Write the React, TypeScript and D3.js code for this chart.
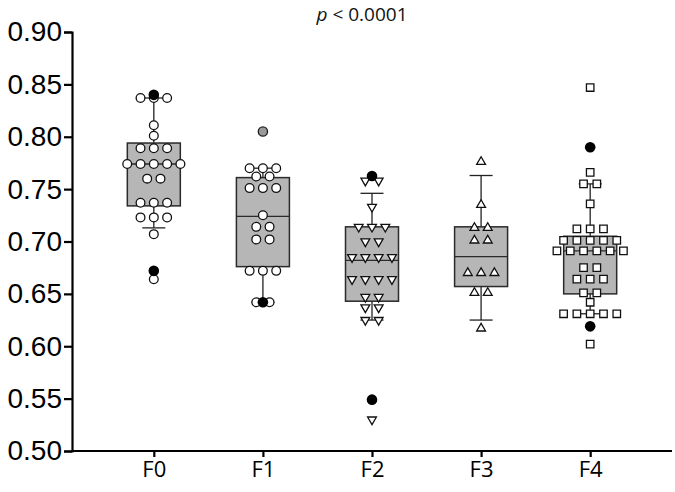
import React, { useEffect, useRef } from "react";
import * as d3 from "d3";

// groups along the x axis
const categories = ["F0", "F1", "F2", "F3", "F4"];
const markers = ["circle", "circle", "triDown", "triUp", "square"];

// box statistics per group
const q1 = [0.734, 0.676, 0.643, 0.657, 0.65];
const medians = [0.774, 0.724, 0.682, 0.6855, 0.691];
const q3 = [0.794, 0.761, 0.714, 0.714, 0.705];
const whiskerLow = [0.713, 0.642, 0.625, 0.625, 0.631];
const whiskerHigh = [0.837, 0.77, 0.746, 0.763, 0.755];

// individual observations (white markers)
const f0Values = [
  0.837, 0.837, 0.837, 0.811, 0.801, 0.789, 0.789, 0.789, 0.774, 0.774, 0.774, 0.774, 0.774,
  0.76, 0.76, 0.737, 0.737, 0.737, 0.723, 0.723, 0.723, 0.707, 0.664,
];
const f1Values = [
  0.77, 0.77, 0.77, 0.762, 0.762, 0.751, 0.751, 0.751, 0.725, 0.714, 0.714, 0.702, 0.702,
  0.672, 0.672, 0.672, 0.642, 0.642,
];
const f2Values = [
  0.758, 0.758, 0.733, 0.714, 0.714, 0.714, 0.7, 0.7, 0.685, 0.685, 0.685, 0.685, 0.664,
  0.664, 0.664, 0.664, 0.647, 0.647, 0.637, 0.637, 0.625, 0.625, 0.53,
];
const f3Values = [0.776, 0.735, 0.713, 0.713, 0.701, 0.701, 0.67, 0.67, 0.67, 0.651, 0.651, 0.617];
const f4Values = [
  0.847, 0.766, 0.755, 0.755, 0.736, 0.712, 0.712, 0.712, 0.701, 0.701, 0.701, 0.701, 0.701,
  0.691, 0.691, 0.691, 0.691, 0.691, 0.691, 0.675, 0.675, 0.664, 0.664, 0.664, 0.651, 0.651,
  0.642, 0.631, 0.631, 0.631, 0.631, 0.631, 0.602,
];
const groupValues = [f0Values, f1Values, f2Values, f3Values, f4Values];

// filled outliers
const blackPoints = [[0.84, 0.672], [0.642], [0.7625, 0.549], [], [0.79, 0.619]];
const greyPoints = [[], [0.805], [], [], []];

const yTicks = [0.5, 0.55, 0.6, 0.65, 0.7, 0.75, 0.8, 0.85, 0.9];

const App = () => {
  const svgRef = useRef<SVGSVGElement>(null);

  useEffect(() => {
    const svg = d3.select(svgRef.current);
    svg.selectAll("*").remove();

    const width = 675,
      height = 492;
    const left = 72,
      right = 672,
      top = 32,
      bottom = 451;

    const x = d3.scalePoint<string>().domain(categories).range([left, right]).padding(0.75);
    const y = d3.scaleLinear().domain([0.5, 0.9]).range([bottom, top]);
    const boxW = 53;
    const capW = 23;
    const spacing = 13.3;

    svg.attr("width", width).attr("height", height);

    // title
    const title = svg
      .append("text")
      .attr("x", 362)
      .attr("y", 21)
      .attr("text-anchor", "middle")
      .attr("font-family", "Open Sans, sans-serif")
      .attr("font-size", "19px")
      .attr("fill", "#111");
    title.append("tspan").attr("font-style", "italic").text("p");
    title.append("tspan").text(" < 0.0001");

    // y axis
    const yAxis = svg
      .append("g")
      .attr("transform", `translate(${left},0)`)
      .call(d3.axisLeft(y).tickValues(yTicks).tickFormat(d3.format(".2f")).tickSize(8).tickPadding(2));
    yAxis.select(".domain").attr("stroke", "#000").attr("stroke-width", 2.2);
    yAxis.selectAll(".tick line").attr("stroke", "#000").attr("stroke-width", 2.2);
    yAxis
      .selectAll(".tick text")
      .attr("font-family", "Liberation Sans, Arial, sans-serif")
      .attr("font-size", "28px")
      .attr("fill", "#000");

    // x axis
    const xAxis = svg
      .append("g")
      .attr("transform", `translate(0,${bottom})`)
      .call(d3.axisBottom(x).tickSize(6).tickSizeOuter(0).tickPadding(4));
    xAxis.select(".domain").attr("stroke", "#000").attr("stroke-width", 2.2).attr("d", `M${left},0H${right}`);
    xAxis.selectAll(".tick line").attr("stroke", "#000").attr("stroke-width", 2.2);
    xAxis
      .selectAll(".tick text")
      .attr("font-family", "Open Sans, sans-serif")
      .attr("font-size", "22px")
      .attr("fill", "#000");

    const plot = svg.append("g");

    categories.forEach((cat, i) => {
      const cx = x(cat) as number;
      const g = plot.append("g");

      // whiskers
      g.append("line")
        .attr("x1", cx)
        .attr("x2", cx)
        .attr("y1", y(whiskerHigh[i]))
        .attr("y2", y(q3[i]))
        .attr("stroke", "#222")
        .attr("stroke-width", 1.3);
      g.append("line")
        .attr("x1", cx)
        .attr("x2", cx)
        .attr("y1", y(q1[i]))
        .attr("y2", y(whiskerLow[i]))
        .attr("stroke", "#222")
        .attr("stroke-width", 1.3);
      [whiskerHigh[i], whiskerLow[i]].forEach((w) => {
        g.append("line")
          .attr("x1", cx - capW / 2)
          .attr("x2", cx + capW / 2)
          .attr("y1", y(w))
          .attr("y2", y(w))
          .attr("stroke", "#222")
          .attr("stroke-width", 1.3);
      });

      // box
      g.append("rect")
        .attr("x", cx - boxW / 2)
        .attr("y", y(q3[i]))
        .attr("width", boxW)
        .attr("height", y(q1[i]) - y(q3[i]))
        .attr("fill", "#b6b6b6")
        .attr("stroke", "#2a2a2a")
        .attr("stroke-width", 1.5);
      g.append("line")
        .attr("x1", cx - boxW / 2)
        .attr("x2", cx + boxW / 2)
        .attr("y1", y(medians[i]))
        .attr("y2", y(medians[i]))
        .attr("stroke", "#2a2a2a")
        .attr("stroke-width", 1.3);

      // dot rows: equal values share a row, spread around the centre
      const rows = d3.group(groupValues[i], (v) => v);
      let symType: d3.SymbolType = d3.symbolCircle;
      let size = 60;
      let rot = 0;
      if (markers[i] === "triDown" || markers[i] === "triUp") {
        symType = d3.symbolTriangle;
        size = 34;
        rot = markers[i] === "triDown" ? 180 : 0;
      } else if (markers[i] === "square") {
        symType = d3.symbolSquare;
        size = 56;
      }
      const sym = d3.symbol().type(symType).size(size);
      rows.forEach((vals, v) => {
        const n = vals.length;
        vals.forEach((_, k) => {
          const px = cx + (k - (n - 1) / 2) * spacing;
          g.append("path")
            .attr("d", sym() as string)
            .attr("transform", `translate(${px},${y(v)}) rotate(${rot})`)
            .attr("fill", "#fff")
            .attr("stroke", "#111")
            .attr("stroke-width", 1.3);
        });
      });

      greyPoints[i].forEach((v) => {
        g.append("circle")
          .attr("cx", cx)
          .attr("cy", y(v))
          .attr("r", 4.6)
          .attr("fill", "#9a9a9a")
          .attr("stroke", "#222")
          .attr("stroke-width", 1.4);
      });
      blackPoints[i].forEach((v) => {
        g.append("circle").attr("cx", cx).attr("cy", y(v)).attr("r", 5.3).attr("fill", "#000");
      });
    });
  }, []);

  return (
    <div>
      <svg ref={svgRef} style={{ position: "absolute", left: 0, top: 0, background: "#fff" }}></svg>
    </div>
  );
};

export default App;
